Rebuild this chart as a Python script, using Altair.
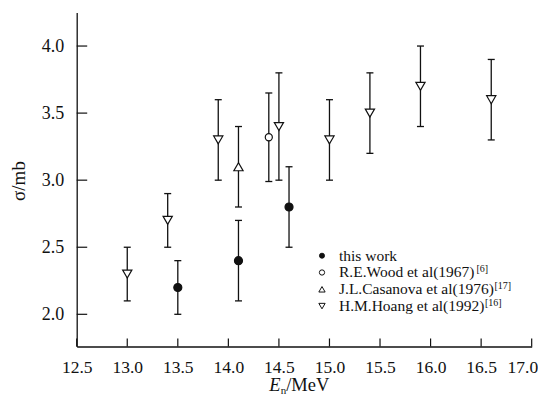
import altair as alt
import pandas as pd

FONT = "Liberation Serif"

# ---- data ----
this_E = [13.5, 14.1, 14.6]
this_s = [2.2, 2.4, 2.8]
this_err = [0.2, 0.3, 0.3]

wood_E = [14.4]
wood_s = [3.32]
wood_err = [0.33]

cas_E = [14.1]
cas_s = [3.1]
cas_err = [0.3]

hoang_E = [13.0, 13.4, 13.9, 14.5, 15.0, 15.4, 15.9, 16.6]
hoang_s = [2.3, 2.7, 3.3, 3.4, 3.3, 3.5, 3.7, 3.6]
hoang_err = [0.2, 0.2, 0.3, 0.4, 0.3, 0.3, 0.3, 0.3]

series_names = ["this work", "R.E.Wood et al(1967)",
                "J.L.Casanova et al(1976)", "H.M.Hoang et al(1992)"]
series_refs = ["", "[6]", "[17]", "[16]"]

x_ticks = [12.5, 13.0, 13.5, 14.0, 14.5, 15.0, 15.5, 16.0, 16.5, 17.0]
y_ticks = [2.0, 2.5, 3.0, 3.5, 4.0]

rows = []
for name, E, s, e in [
    (series_names[0], this_E, this_s, this_err),
    (series_names[1], wood_E, wood_s, wood_err),
    (series_names[2], cas_E, cas_s, cas_err),
    (series_names[3], hoang_E, hoang_s, hoang_err),
]:
    for a, b, c in zip(E, s, e):
        rows.append({"series": name, "E": a, "s": b, "lo": b - c, "hi": b + c})
df = pd.DataFrame(rows)

# Times-Roman advance widths (1/1000 em) for placing superscripts
TW = {"R": 667, ".": 250, "E": 611, "W": 944, "o": 500, "d": 500, " ": 250,
      "e": 444, "t": 278, "a": 444, "l": 278, "(": 333, ")": 333, "J": 389,
      "L": 611, "C": 667, "s": 389, "n": 500, "v": 500, "H": 722, "M": 889,
      "g": 500, "h": 500, "i": 278, "w": 722, "r": 333, "k": 500}


def text_w(txt, size):
    return sum(TW.get(c, 500) for c in txt) / 1000.0 * size


W, H = 455, 334
xs = alt.Scale(domain=[12.5, 17.0], nice=False, zero=False)
ys = alt.Scale(domain=[1.76, 4.25], nice=False, zero=False)

x_axis = alt.Axis(values=x_ticks, format=".1f", ticks=False, tickSize=0,
                  labelPadding=26, labelBaseline="alphabetic", labelFont=FONT,
                  labelFontSize=17.5, labelColor="#111", domainColor="#111",
                  domainWidth=1.3, grid=False, title="", labelFlush=False,
                  labelAlign=alt.condition("datum.value >= 17", alt.value("right"),
                                           alt.value("center")),
                  labelOffset=alt.condition("datum.value >= 17", alt.value(6),
                                            alt.value(0)))
y_axis = alt.Axis(values=y_ticks, format=".1f", ticks=False, tickSize=0,
                  labelPadding=13, labelFont=FONT, labelFontSize=18,
                  labelColor="#111", domainColor="#111", domainWidth=1.3,
                  grid=False, title="σ/mb", titleFont=FONT, titleFontSize=19,
                  titleFontWeight="normal", titleColor="#111", titleX=-52,
                  titleY=168, titleBaseline="alphabetic", titleAngle=270)

base = alt.Chart(df)

bars = base.mark_rule(color="#111", strokeWidth=1.3).encode(
    x=alt.X("E:Q", scale=xs, axis=x_axis),
    y=alt.Y("lo:Q", scale=ys, axis=y_axis),
    y2="hi:Q",
)
cap_hi = base.mark_rule(color="#111", strokeWidth=1.3, xOffset=-3.5, x2Offset=3.5).encode(
    x=alt.X("E:Q", scale=xs, axis=x_axis), x2="E:Q",
    y=alt.Y("hi:Q", scale=ys, axis=y_axis),
)
cap_lo = base.mark_rule(color="#111", strokeWidth=1.3, xOffset=-3.5, x2Offset=3.5).encode(
    x=alt.X("E:Q", scale=xs, axis=x_axis), x2="E:Q",
    y=alt.Y("lo:Q", scale=ys, axis=y_axis),
)


def pts(name, shape, filled, size):
    return base.transform_filter(alt.datum.series == name).mark_point(
        shape=shape, filled=True, size=size,
        fill="#111" if filled else "white", stroke="#111",
        strokeWidth=1.2, opacity=1,
    ).encode(
        x=alt.X("E:Q", scale=xs, axis=x_axis),
        y=alt.Y("s:Q", scale=ys, axis=y_axis),
    )


p_this = pts(series_names[0], "circle", True, 64)
p_wood = pts(series_names[1], "circle", False, 50)
p_cas = pts(series_names[2], "triangle-up", False, 85)
p_hoang = pts(series_names[3], "triangle-down", False, 85)

# inward tick marks
xt = alt.Chart(pd.DataFrame({"E": x_ticks})).mark_rule(color="#111", strokeWidth=1.2).encode(
    x=alt.X("E:Q", scale=xs, axis=x_axis),
    y=alt.value(H), y2=alt.value(H - 8),
)
yt = alt.Chart(pd.DataFrame({"s": y_ticks})).mark_rule(color="#111", strokeWidth=1.2).encode(
    y=alt.Y("s:Q", scale=ys, axis=y_axis),
    x=alt.value(0), x2=alt.value(10.5),
)

# x-axis title  E_n/MeV
one = pd.DataFrame({"k": [0]})
TY = 379.0
t_E = alt.Chart(one).mark_text(text="E", font=FONT, fontSize=18.5, fontStyle="italic",
                               align="left", baseline="alphabetic", color="#111").encode(
    x=alt.value(192.5), y=alt.value(TY))
t_n = alt.Chart(one).mark_text(text="n", font=FONT, fontSize=11,
                               align="left", baseline="alphabetic", color="#111").encode(
    x=alt.value(204), y=alt.value(TY + 2.5))
t_M = alt.Chart(one).mark_text(text="/MeV", font=FONT, fontSize=18.5,
                               align="left", baseline="alphabetic", color="#111").encode(
    x=alt.value(209.5), y=alt.value(TY))

# manual legend
LEG_FS = 15.5
leg_shapes = ["circle", "circle", "triangle-up", "triangle-down"]
leg_filled = [True, False, False, False]
leg_sizes = [25, 28, 40, 40]
legend_layers = []
for i, name in enumerate(series_names):
    yb = 248.2 + 16.8 * i
    legend_layers.append(
        alt.Chart(one).mark_point(shape=leg_shapes[i], filled=True, size=leg_sizes[i],
                                  fill="#111" if leg_filled[i] else "white",
                                  stroke="#111", strokeWidth=1, opacity=1).encode(
            x=alt.value(245.3), y=alt.value(yb - 5))
    )
    legend_layers.append(
        alt.Chart(one).mark_text(text=name, font=FONT, fontSize=LEG_FS, align="left",
                                 baseline="alphabetic", color="#111").encode(
            x=alt.value(262.3), y=alt.value(yb))
    )
    if series_refs[i]:
        legend_layers.append(
            alt.Chart(one).mark_text(text=series_refs[i], font=FONT, fontSize=10,
                                     align="left", baseline="alphabetic",
                                     color="#111").encode(
                x=alt.value(262.3 + text_w(name, LEG_FS) + 0.5), y=alt.value(yb - 5))
        )

chart = alt.layer(
    bars, cap_hi, cap_lo, xt, yt, p_this, p_wood, p_cas, p_hoang,
    t_E, t_n, t_M, *legend_layers
).properties(
    width=W, height=H,
    padding={"left": 68.7, "top": 4.5, "right": 6, "bottom": 50.5},
    autosize=alt.AutoSizeParams(type="none"),
    background="white",
).configure_view(stroke=None)

chart.save("out.html", embed_options={"renderer": "svg", "actions": False})
